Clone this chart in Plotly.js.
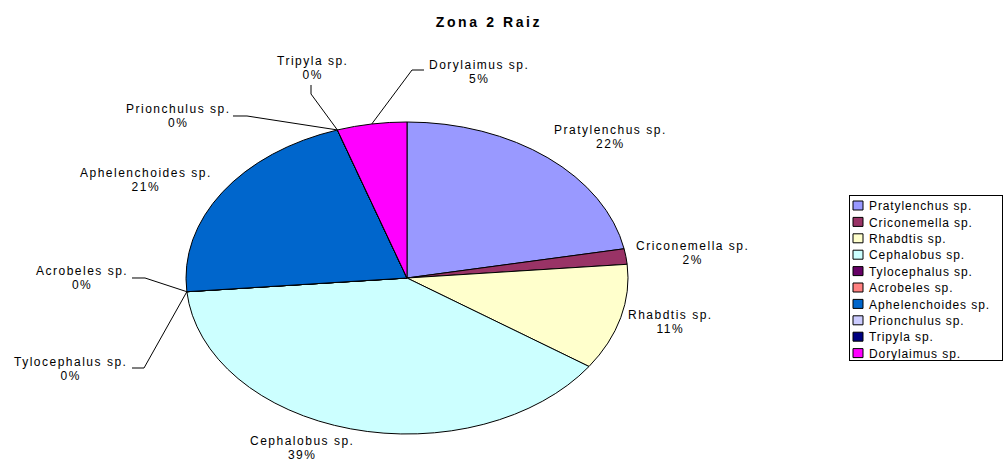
<!DOCTYPE html>
<html><head><meta charset="utf-8">
<script src="https://cdn.plot.ly/plotly-3.0.1.min.js"></script>
<style>
html,body{margin:0;padding:0;background:#fff;}
#chart{width:1003px;height:462px;}
.pielayer path.surface{vector-effect:non-scaling-stroke;}
.annotation-text{letter-spacing:1.5px;}
.legendtext{letter-spacing:0.9px;}
.gtitle{letter-spacing:2.6px;}
</style></head><body><div id="chart"></div>
<script>
// ---- data ----
const chartTitle = 'Zona 2 Raiz';
const categories = ['Pratylenchus sp.', 'Criconemella sp.', 'Rhabdtis sp.', 'Cephalobus sp.', 'Tylocephalus sp.',
  'Acrobeles sp.', 'Aphelenchoides sp.', 'Prionchulus sp.', 'Tripyla sp.', 'Dorylaimus sp.'];
const values = [22.0, 1.6, 11.0, 39.0, 0, 0, 21.3, 0, 0, 5.1];
const colors = ['#9999FF', '#993366', '#FFFFCC', '#CCFFFF', '#660066', '#FF8080', '#0066CC', '#CCCCFF', '#000080', '#FF00FF'];

// ---- layout (pixels) ----
const W = 1003, H = 462;
const CX = 407, CY = 278, RX = 221, RY = 156;
const labelCenters = [[610,137],[692,253],[670,322],[302,448],[70,369],[82,278],[146,180],[178,116],[312,68],[479,72]];
const leaderElbows = [null,null,null,null,
  [[132,368],[144,368]], [[132,278],[145,278]], null,
  [[233,116],[247,116]], [[311,85],[311,94]], [[424,70],[412,70]]];
const LEG = {left: 849, top: 195, width: 153, height: 165, firstRow: 10.5, rowStep: 16.4, swatchLeft: 853, textLeft: 869};

const FONT = 'Liberation Sans, Arial, sans-serif';
const total = values.reduce((a,b)=>a+b,0);
const px = x => x / W, py = y => 1 - y / H;

let cum = 0;
const annotations = [], shapes = [];
categories.forEach((name, i) => {
  const mid = (cum + values[i] / 2) / total;
  cum += values[i];
  const pct = Math.round(values[i] / total * 100);
  const [lx, ly] = labelCenters[i];
  annotations.push({
    x: px(lx), y: py(ly), xref: 'paper', yref: 'paper', xanchor: 'center', yanchor: 'middle',
    text: name + '<br>' + pct + '%', showarrow: false, align: 'center',
    font: {family: FONT, size: 12, color: '#000'}
  });
  if (leaderElbows[i]) {
    const th = mid * 2 * Math.PI;
    const ax = CX + RX * Math.sin(th), ay = CY - RY * Math.cos(th);
    const pts = leaderElbows[i].concat([[ax, ay]]);
    const d = pts.map((p, k) => (k ? 'L' : 'M') + px(p[0]).toFixed(5) + ',' + py(p[1]).toFixed(5)).join(' ');
    shapes.push({type: 'path', xref: 'paper', yref: 'paper', path: d, line: {color: '#000', width: 1}});
  }
});

const trace = {
  type: 'pie', labels: categories, values: values, sort: false, direction: 'clockwise', rotation: 0,
  marker: {colors: colors, line: {color: '#000', width: 1}},
  textinfo: 'none', hoverinfo: 'skip',
  domain: {x: [px(CX - RY), px(CX + RY)], y: [py(CY + RY), py(CY - RY)]}
};

const layout = {
  width: W, height: H, margin: {l: 0, r: 0, t: 0, b: 0, autoexpand: false},
  paper_bgcolor: '#fff', plot_bgcolor: '#fff',
  title: {text: chartTitle, x: 489 / W, xanchor: 'center', y: py(22), yanchor: 'middle',
    font: {family: FONT, size: 14, color: '#000', weight: 'bold'}},
  showlegend: true,
  legend: {x: px(LEG.left), y: py(LEG.top), xanchor: 'left', yanchor: 'top', bgcolor: '#fff',
    bordercolor: '#000', borderwidth: 1, font: {family: FONT, size: 12, color: '#000'}, traceorder: 'normal'},
  annotations: annotations, shapes: shapes
};

function shiftX(el, want) { return want - el.getBoundingClientRect().left; }

const gd = document.getElementById('chart');
Plotly.newPlot(gd, [trace], layout, {staticPlot: true, displayModeBar: false}).then(() => {
  const pl = gd.querySelector('.pielayer');
  if (pl) pl.setAttribute('transform', `translate(${CX},0) scale(${RX / RY},1) translate(${-CX},0)`);
  gd.querySelectorAll('.annotation-text tspan.line').forEach(ts => {
    if (ts.getAttribute('dy') === '1.3em') ts.setAttribute('dy', '1.15em');
  });
  gd.querySelectorAll('.annotation-text').forEach(t => {
    const y = parseFloat(t.getAttribute('y'));
    if (!isNaN(y)) t.setAttribute('y', y + 1);
    t.querySelectorAll('tspan.line').forEach(ts => {
      const yy = parseFloat(ts.getAttribute('y'));
      if (!isNaN(yy)) ts.setAttribute('y', yy + 1);
    });
  });
  const lg = gd.querySelector('.legend');
  if (!lg) return;
  const bg = lg.querySelector('rect.bg');
  const sb = lg.querySelector('.scrollbox');
  if (sb) sb.setAttribute('transform', 'translate(0,0)');
  if (bg) {
    bg.setAttribute('width', LEG.width); bg.setAttribute('height', LEG.height);
    const r = bg.getBoundingClientRect();
    const bx = parseFloat(bg.getAttribute('x')) || 0, by = parseFloat(bg.getAttribute('y')) || 0;
    bg.setAttribute('x', bx + (LEG.left + 0.5 - r.left));
    bg.setAttribute('y', by + (LEG.top + 0.5 - r.top));
  }
  lg.querySelectorAll('.traces').forEach((t, i) => {
    t.setAttribute('transform', `translate(0,${LEG.firstRow + LEG.rowStep * i})`);
    t.querySelectorAll('path.legendpie').forEach(p => {
      p.setAttribute('d', 'M5,4.5H-5V-4.5H5Z');
      p.setAttribute('transform', 'translate(10,0)');
      p.style.strokeWidth = '1px';
      p.setAttribute('transform', `translate(${10 + shiftX(p, LEG.swatchLeft)},0)`);
    });
    const tx = t.querySelector('.legendtext');
    if (tx) {
      const cur = parseFloat(tx.getAttribute('x')) || 0;
      tx.setAttribute('x', cur + shiftX(tx, LEG.textLeft));
    }
    const sw = t.querySelector('path.legendpie');
    if (sw) {
      const r = sw.getBoundingClientRect();
      const dy = (LEG.top + LEG.firstRow + LEG.rowStep * i) - (r.top + r.height / 2);
      t.setAttribute('transform', `translate(0,${LEG.firstRow + LEG.rowStep * i + dy})`);
    }
  });
});
</script></body></html>
